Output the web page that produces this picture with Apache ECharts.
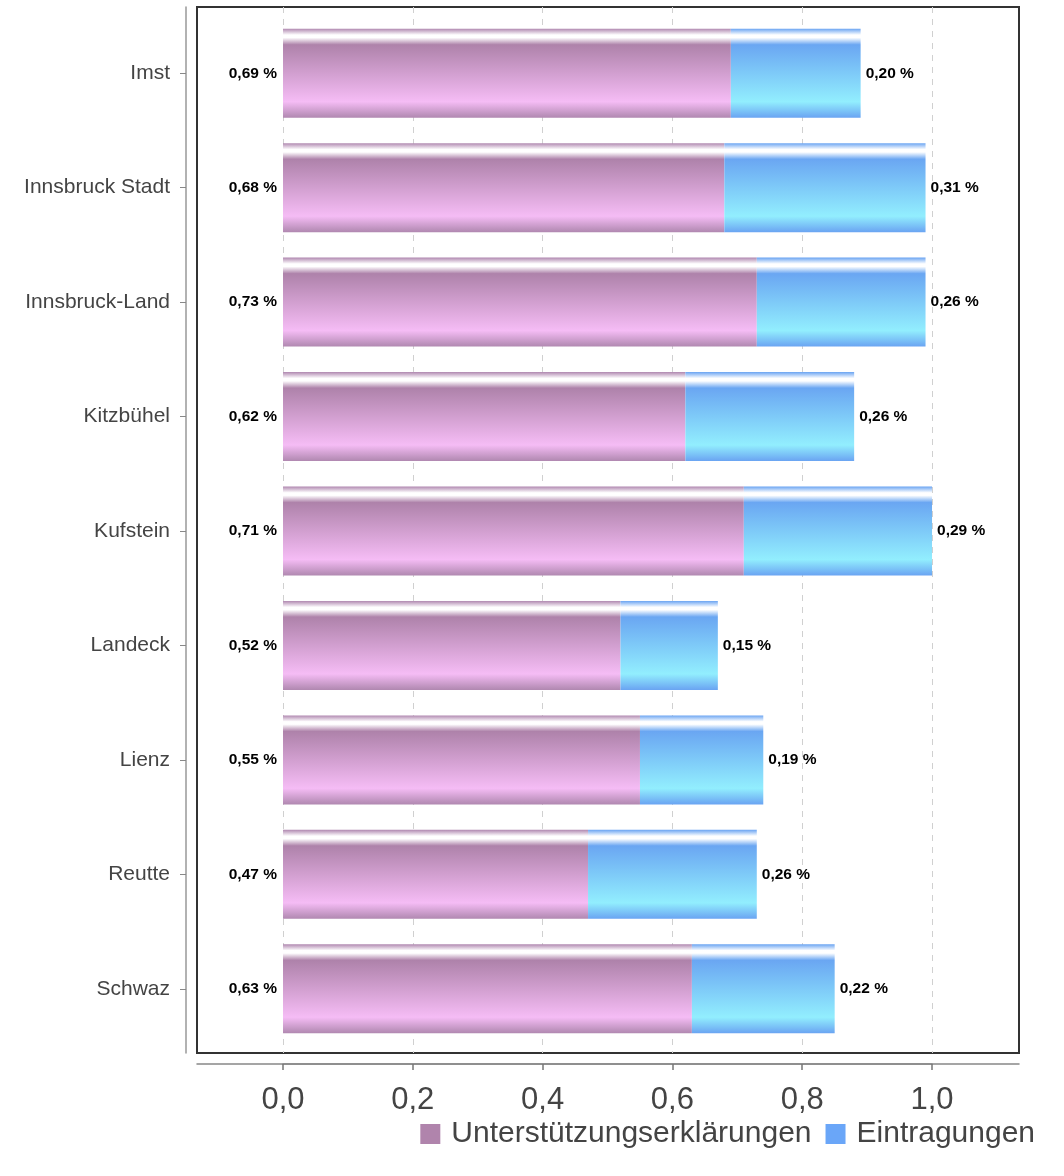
<!DOCTYPE html>
<html>
<head>
<meta charset="utf-8">
<script src="https://cdn.jsdelivr.net/npm/echarts@6/dist/echarts.min.js"></script>
<style>
html,body{margin:0;padding:0;background:#fff;}
#chart{width:1064px;height:1176px;}
</style>
</head>
<body>
<div id="chart"></div>
<script>
var categories = ['Imst','Innsbruck Stadt','Innsbruck-Land','Kitzbühel','Kufstein','Landeck','Lienz','Reutte','Schwaz'];
var seriesNames = ['Unterstützungserklärungen','Eintragungen'];
var unterstuetzung = [0.69,0.68,0.73,0.62,0.71,0.52,0.55,0.47,0.63];
var eintragungen = [0.20,0.31,0.26,0.26,0.29,0.15,0.19,0.26,0.22];
var xTickMin = 0, xTickMax = 1.0, xTickStep = 0.2;

var FONT = 'Liberation Sans, Arial, sans-serif';
var XMIN = -0.1325, XMAX = 1.134;

function grad(edge, main, light, hi){
  return new echarts.graphic.LinearGradient(0,0,0,1,[
    {offset:0, color:edge},
    {offset:0.07, color:hi},
    {offset:0.1, color:hi},
    {offset:0.18, color:main},
    {offset:0.82, color:light},
    {offset:1, color:edge}
  ]);
}
var purple = grad('#b088b0','#ae82aa','#f5bcf5','#ffffff');
var blue = grad('#6aa4f2','#6aa6f2','#92eefe','#ffffff');

function fmt(v){ return v.toFixed(2).replace('.',',') + ' %'; }

var chart = echarts.init(document.getElementById('chart'));
chart.setOption({
  animation:false,
  backgroundColor:'#fff',
  textStyle:{fontFamily:FONT},
  legend:{
    right:24, top:1114,
    itemWidth:20, itemHeight:20, itemGap:14,
    textStyle:{fontSize:30, color:'#444', fontFamily:FONT, padding:[0,0,0,6]},
    data:[
      {name:seriesNames[0], icon:'rect', itemStyle:{color:'#b084ac'}},
      {name:seriesNames[1], icon:'rect', itemStyle:{color:'#6aa6f8'}}
    ]
  },
  grid:[
    /* 0: frame box + outer axis lines */
    {left:197, width:822, top:7, height:1046, show:true, borderColor:'#333', borderWidth:2, backgroundColor:'transparent', containLabel:false},
    /* 1: bars */
    {left:197, width:822, top:16, height:1030, containLabel:false},
    /* 2: ticks, labels and grid lines of the value axis (0 .. 1.0) */
    {left:283, width:649, top:7, height:1046, containLabel:false}
  ],
  xAxis:[
    {gridIndex:0, type:'value', min:XMIN, max:XMAX, offset:11, position:'bottom',
     axisLine:{show:true, onZero:false, lineStyle:{color:'#888', width:1.5}},
     axisTick:{show:false}, axisLabel:{show:false}, splitLine:{show:false}},
    {gridIndex:1, type:'value', min:XMIN, max:XMAX, show:false, axisLine:{onZero:false}},
    {gridIndex:2, type:'value', min:xTickMin, max:xTickMax, interval:xTickStep, offset:11, position:'bottom',
     axisLine:{show:true, onZero:false, lineStyle:{color:'#888', width:1.5}},
     axisTick:{show:true, length:6, lineStyle:{color:'#777', width:1.5}},
     axisLabel:{show:true, margin:21, fontSize:31, color:'#444', fontFamily:FONT,
       formatter:function(v){return v.toFixed(1).replace('.',',');}},
     splitLine:{show:true, lineStyle:{color:'#d0d0d0', type:[6,6], width:1}}}
  ],
  yAxis:[
    {gridIndex:0, type:'value', min:0, max:1, position:'left', offset:11,
     axisLine:{show:true, onZero:false, lineStyle:{color:'#999', width:1.5}},
     axisTick:{show:false}, axisLabel:{show:false}, splitLine:{show:false}},
    {gridIndex:1, type:'category', data:categories, inverse:true, position:'left', offset:11,
     axisLine:{show:false, onZero:false},
     axisTick:{show:true, alignWithLabel:true, length:6, lineStyle:{color:'#888'}},
     axisLabel:{show:true, margin:16, fontSize:21, color:'#444', fontFamily:FONT},
     splitLine:{show:false}},
    {gridIndex:2, type:'value', min:0, max:1, show:false, axisLine:{onZero:false}, splitLine:{show:false}}
  ],
  series:[
    {name:seriesNames[0], type:'bar', stack:'s', xAxisIndex:1, yAxisIndex:1, barWidth:89,
     data:unterstuetzung, itemStyle:{color:purple},
     label:{show:true, position:'left', distance:6, fontSize:15.5, fontWeight:'bold', color:'#000', fontFamily:FONT,
       formatter:function(p){return fmt(p.value);}}},
    {name:seriesNames[1], type:'bar', stack:'s', xAxisIndex:1, yAxisIndex:1, barWidth:89,
     data:eintragungen, itemStyle:{color:blue},
     label:{show:true, position:'right', distance:5, fontSize:15.5, fontWeight:'bold', color:'#000', fontFamily:FONT,
       formatter:function(p){return fmt(p.value);}}}
  ]
});
</script>
</body>
</html>
